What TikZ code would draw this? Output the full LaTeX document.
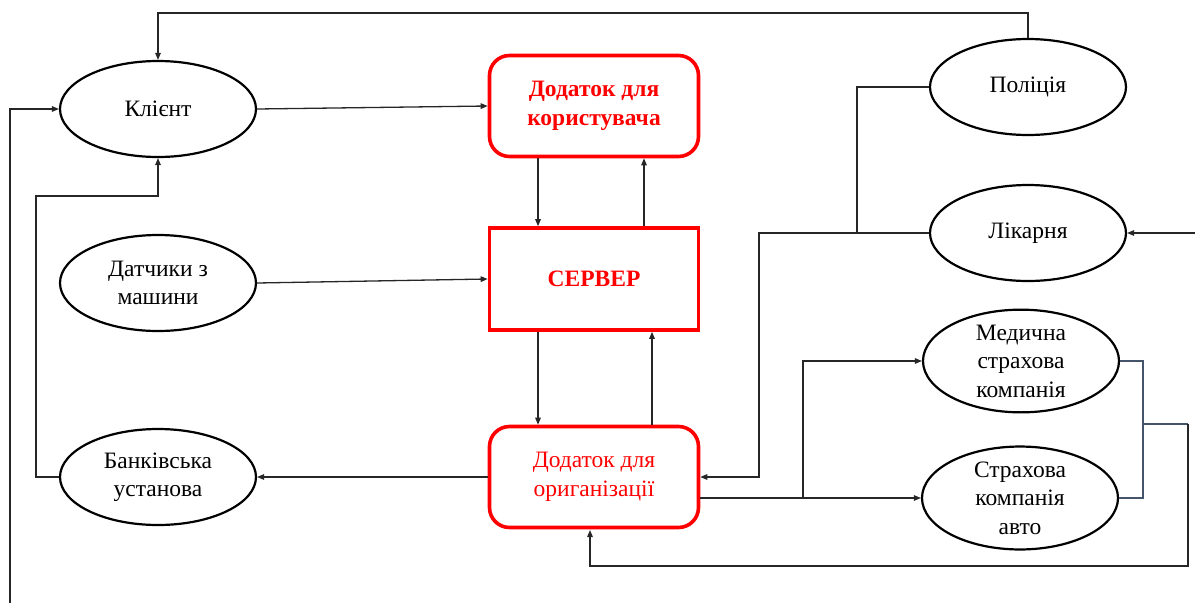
\documentclass[tikz,border=0pt]{standalone}
\usepackage{fontspec}
\setmainfont{Liberation Serif}
\usetikzlibrary{shapes.geometric,arrows.meta}
\definecolor{slate}{HTML}{44546A}
\definecolor{wire}{HTML}{262626}
\begin{document}
\begin{tikzpicture}[x=1pt,y=-1pt,
  ent/.style={ellipse,draw=black,line width=2.2pt,minimum width=196pt,minimum height=96pt,
    inner sep=0pt,align=center,font=\fontsize{23.5}{28.5}\selectfont},
  appbox/.style={rectangle,rounded corners=20pt,draw=red,line width=3.6pt,
    minimum width=209pt,minimum height=101pt,inner sep=0pt,align=center,
    text=red,font=\fontsize{23.5}{28.5}\selectfont},
  srvbox/.style={rectangle,draw=red,line width=3.6pt,minimum width=209pt,minimum height=102pt,
    inner sep=0pt,align=center,text=red,font=\fontsize{23.5}{28.5}\selectfont\bfseries},
  conn/.style={draw=wire,line width=1.3pt,-{Triangle[length=7pt,width=5.5pt]}},
  link/.style={draw=wire,line width=1.3pt},
  slink/.style={draw=slate,line width=1.3pt}]
\useasboundingbox (0,0) rectangle (1195,603);

% entities
\node[ent] (kl)   at (158,109) {Клієнт};
\node[ent] (dat)  at (158,283) {Датчики з\\машини};
\node[ent] (bank) at (158,477) {Банківська\\установа};
\node[ent] (pol)  at (1028,87) {Поліція};
\node[ent] (lik)  at (1028,233) {Лікарня};
\node[ent] (med)  at (1021,361) {Медична\\страхова\\компанія};
\node[ent] (str)  at (1020,498) {Страхова\\компанія\\авто};

% applications and server
\node[appbox,font=\fontsize{23.5}{28.5}\selectfont\bfseries] (appu) at (594,106) {Додаток для\\користувача};
\node[srvbox] (srv) at (594,279) {СЕРВЕР};
\node[appbox] (appo) at (594,477) {Додаток для\\ориганізації};

% auxiliary points of the routed lines
\coordinate (lb)  at (10,603);
\coordinate (bk1) at (36,196);
\coordinate (j1)  at (857,233);
\coordinate (j1l) at (759,233);
\coordinate (rr)  at (1195,233);
\coordinate (j2)  at (803,498);
\coordinate (br1) at (1143,361);
\coordinate (br2) at (1143,498);
\coordinate (brm) at (1143,424);
\coordinate (ret) at (1188,424);
\coordinate (retb) at (1188,566);
\coordinate (ao)  at (590,530);

% client side
\draw[conn] (pol.north) -- ++(0,-25) -| (kl.north);
\draw[conn] (lb) |- (kl.west);
\draw[conn] (bank.west) -| (bk1) -| (kl.south);
\draw[conn] (kl.east) -- (appu.west);
\draw[conn] (dat.east) -- (srv.west);
\draw[conn] (appo.west) -- (bank.east);

% application <-> server
\draw[conn] ([xshift=-56pt]appu.south) -- ([xshift=-56pt]srv.north);
\draw[conn] ([xshift=50pt]srv.north) -- ([xshift=50pt]appu.south);
\draw[conn] ([xshift=-56pt]srv.south) -- ([xshift=-56pt]appo.north);
\draw[conn] ([xshift=58pt]appo.north) -- ([xshift=58pt]srv.south);

% police and hospital
\draw[link] (pol.west) -| (j1);
\draw[conn] (lik.west) -- (j1) -- (j1l) |- (appo.east);
\draw[conn] (rr) -- (lik.east);

% insurance companies
\draw[conn] ([yshift=-21pt]appo.east) -- (str.west);
\draw[conn] (j2) |- (med.west);
\draw[slink] (med.east) -- (br1) -- (br2) -- (str.east);
\draw[slink] (brm) -- (ret);
\draw[conn] (ret) -- (retb) -| (ao);
\end{tikzpicture}
\end{document}
